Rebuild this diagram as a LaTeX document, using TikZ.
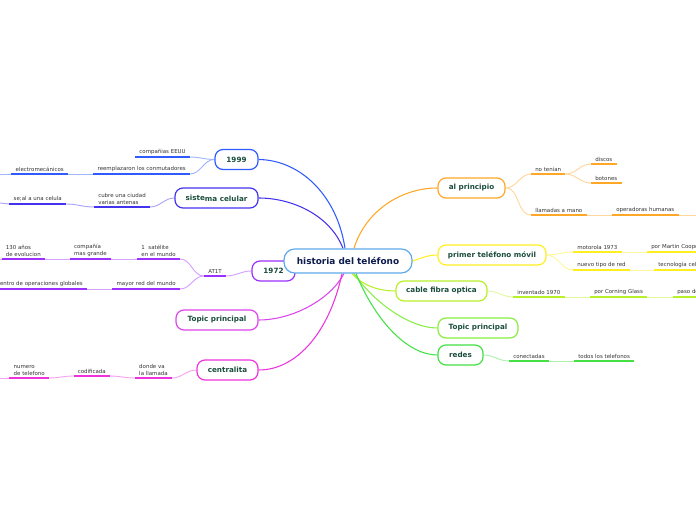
\documentclass[tikz,border=0pt]{standalone}
\usepackage{fontspec}
\setmainfont{DejaVu Sans}
\usetikzlibrary{calc}
\pgfdeclarelayer{bg}
\pgfsetlayers{bg,main}
\definecolor{cCentral}{HTML}{5DA9E9}
\definecolor{centtxt}{HTML}{0D1B4D}
\definecolor{topictxt}{HTML}{1B4D3E}
\definecolor{subtxt}{HTML}{333333}
\definecolor{cBlue}{HTML}{2F5BFF}
\definecolor{cIndigo}{HTML}{4433EE}
\definecolor{cPurple}{HTML}{9B30FF}
\definecolor{cOrchid}{HTML}{DD44EE}
\definecolor{cMag}{HTML}{EE33DD}
\definecolor{cOrange}{HTML}{FFA726}
\definecolor{cYellow}{HTML}{FFEE22}
\definecolor{cLime}{HTML}{B8F02A}
\definecolor{cLgreen}{HTML}{88EE44}
\definecolor{cGreen}{HTML}{44E044}
\begin{document}
\begin{tikzpicture}[x=0.75pt,y=-0.75pt,
  topic/.style={draw=#1, line width=0.9pt, rounded corners=6pt, fill=white, minimum height=15pt, inner xsep=2pt, inner ysep=1pt, font=\fontsize{5.4}{6}\selectfont\bfseries, text=topictxt},
  central/.style={draw=cCentral, line width=0.9pt, rounded corners=8pt, fill=white, minimum width=96pt, minimum height=18pt, font=\fontsize{6.7}{8}\selectfont\bfseries, text=centtxt},
  sub/.style={font=\fontsize{4.1}{5}\selectfont, text=subtxt, inner xsep=3pt, inner ysep=1.8pt, align=left},
  subl/.style={sub, anchor=south east},
  subr/.style={sub, anchor=south west},
  ul/.style={line width=1.5pt, draw=#1},
  lk/.style={line width=0.7pt, draw=#1!45!white},
  br/.style={line width=0.8pt, draw=#1}]
\useasboundingbox (0,0) rectangle (696,520);

% topics
\node[topic=cBlue, minimum width=32.25pt] (t1999) at (236.5,159.5) {1999};
\node[topic=cIndigo, minimum width=62.25pt] (tsis) at (216.5,198) {\raisebox{0.8pt}{siste}ma celular};
\node[topic=cPurple, minimum width=32.25pt] (t1972) at (273.5,271) {1972};
\node[topic=cOrchid, minimum width=61.5pt] (ttopL) at (217,320) {Topic principal};
\node[topic=cMag, minimum width=45.75pt] (tcen) at (227.5,370) {centralita};
\node[topic=cOrange, minimum width=50.25pt] (tal) at (471.5,188) {al principio};
\node[topic=cYellow, minimum width=81pt] (tpri) at (492,255) {primer teléfono móvil};
\node[topic=cLime, minimum width=68.25pt] (tcab) at (441.5,291) {cable fibra optica};
\node[topic=cLgreen, minimum width=60pt] (ttopR) at (478,328) {Topic principal};
\node[topic=cGreen, minimum width=33.75pt] (tred) at (460.5,355) {redes};
\node[central] (c) at (348,261) {historia del teléfono};

% left subtopics
\node[subl] (a1) at (190,157) {compañias EEUU};
\node[subl] (a2) at (190,174) {reemplazaron los conmutadores};
\node[subl] (a3) at (68,174) {electromecánicos};
\coordinate (a3end) at (0,174);
\node[subl] (b1) at (150,207) {cubre una ciudad\\varias antenas};
\node[subl] (b2) at (66,204) {se;al a una celula};
\coordinate (b2end) at (0,203);
\node[subl] (c0) at (226,276) {AT1T};
\node[subl] (c1) at (180,259) {1~ satélite\\en el mundo};
\node[subl] (c2) at (111,259) {compañía\\mas grande};
\node[subl] (c3) at (45,259) {130 años\\de evolucion};
\coordinate (c3end) at (0,259);
\node[subl] (c4) at (180,289) {mayor red del mundo};
\node[subl] (c5) at (87,289) {centro de operaciones globales};
\node[subl] (d1) at (172,378) {donde va\\la llamada};
\node[subl] (d2) at (110,376) {codificada};
\node[subl] (d3) at (49,378) {numero\\de telefono};
\coordinate (d3end) at (0,378);

% right subtopics
\node[subr] (e1) at (531,174) {no tenían};
\node[subr] (e2) at (591,164) {discos};
\node[subr] (e3) at (591,183) {botones};
\node[subr] (e4) at (531,215) {llamadas a mano};
\node[subr] (e5) at (612,215) {operadoras humanas};
\coordinate (e5end) at (696,215);
\node[subr] (f1) at (573,252) {motorola 1973};
\node[subr] (f2) at (647,252) {por Martin Cooper};
\node[subr] (f3) at (573,270) {nuevo tipo de red};
\node[subr] (f4) at (654,270) {tecnología celular};
\node[subr] (g1) at (513,297) {inventado 1970};
\node[subr] (g2) at (590,297) {por Corning Glass};
\node[subr] (g3) at (673,297) {paso de luz};
\node[subr] (h1) at (509,361) {conectadas};
\node[subr] (h2) at (574,361) {todos los telefonos};

% underlines
\foreach \n/\col in {a1/cBlue,a2/cBlue,a3/cBlue,b1/cIndigo,b2/cIndigo,c0/cPurple,c1/cPurple,c2/cPurple,c3/cPurple,c4/cPurple,c5/cPurple,d1/cMag,d2/cMag,d3/cMag,e1/cOrange,e2/cOrange,e3/cOrange,e4/cOrange,e5/cOrange,f1/cYellow,f2/cYellow,f3/cYellow,f4/cYellow,g1/cLime,g2/cLime,g3/cLime,h1/cGreen,h2/cGreen}
  \draw[ul=\col] (\n.south west) -- (\n.south east);

\begin{pgfonlayer}{bg}
% central branches
\draw[br=cBlue] ($(c.north)+(-3,0)$) .. controls (337,195) and (300,160) .. (t1999.east);
\draw[br=cIndigo] ($(c.north)+(-5,0)$) .. controls (330,215) and (292,198) .. (tsis.east);
\draw[br=cPurple] (c.west) -- (t1972.east);
\draw[br=cOrchid] ($(c.south)+(-4,0)$) .. controls (330,300) and (292,320) .. (ttopL.east);
\draw[br=cMag] ($(c.south)+(-6,0)$) .. controls (330,330) and (298,370) .. (tcen.east);
\draw[br=cOrange] ($(c.north)+(6,0)$) .. controls (365,212) and (400,188) .. (tal.west);
\draw[br=cYellow] (c.east) .. controls (422,258) and (428,255) .. (tpri.west);
\draw[br=cLime] ($(c.south)+(4,0)$) .. controls (362,285) and (378,291) .. (tcab.west);
\draw[br=cLgreen] ($(c.south)+(6,0)$) .. controls (372,300) and (408,328) .. (ttopR.west);
\draw[br=cGreen] ($(c.south)+(8,0)$) .. controls (376,322) and (408,355) .. (tred.west);
% left links
\draw[lk=cBlue] (t1999.west) to[out=180,in=0] (a1.south east);
\draw[lk=cBlue] (t1999.west) to[out=180,in=0] (a2.south east);
\draw[lk=cBlue] (a2.south west) -- (a3.south east);
\draw[lk=cBlue] (a3.south west) -- (a3end);
\draw[lk=cIndigo] (tsis.west) to[out=180,in=0] (b1.south east);
\draw[lk=cIndigo] (b1.south west) to[out=180,in=0] (b2.south east);
\draw[lk=cIndigo] (b2.south west) -- (b2end);
\draw[lk=cPurple] (t1972.west) to[out=180,in=0] (c0.south east);
\draw[lk=cPurple] (c0.south west) to[out=180,in=0] (c1.south east);
\draw[lk=cPurple] (c0.south west) to[out=180,in=0] (c4.south east);
\draw[lk=cPurple] (c1.south west) -- (c2.south east);
\draw[lk=cPurple] (c2.south west) -- (c3.south east);
\draw[lk=cPurple] (c3.south west) -- (c3end);
\draw[lk=cPurple] (c4.south west) -- (c5.south east);
\draw[lk=cMag] (tcen.west) to[out=180,in=0] (d1.south east);
\draw[lk=cMag] (d1.south west) to[out=180,in=0] (d2.south east);
\draw[lk=cMag] (d2.south west) to[out=180,in=0] (d3.south east);
\draw[lk=cMag] (d3.south west) -- (d3end);
% right links
\draw[lk=cOrange] (tal.east) to[out=0,in=180] (e1.south west);
\draw[lk=cOrange] (tal.east) to[out=0,in=180] (e4.south west);
\draw[lk=cOrange] (e1.south east) to[out=0,in=180] (e2.south west);
\draw[lk=cOrange] (e1.south east) to[out=0,in=180] (e3.south west);
\draw[lk=cOrange] (e4.south east) -- (e5.south west);
\draw[lk=cOrange] (e5.south east) -- (e5end);
\draw[lk=cYellow] (tpri.east) to[out=0,in=180] (f1.south west);
\draw[lk=cYellow] (tpri.east) to[out=0,in=180] (f3.south west);
\draw[lk=cYellow] (f1.south east) -- (f2.south west);
\draw[lk=cYellow] (f3.south east) -- (f4.south west);
\draw[lk=cLime] (tcab.east) to[out=0,in=180] (g1.south west);
\draw[lk=cLime] (g1.south east) -- (g2.south west);
\draw[lk=cLime] (g2.south east) -- (g3.south west);
\draw[lk=cGreen] (tred.east) to[out=0,in=180] (h1.south west);
\draw[lk=cGreen] (h1.south east) -- (h2.south west);
\end{pgfonlayer}
\end{tikzpicture}
\end{document}
